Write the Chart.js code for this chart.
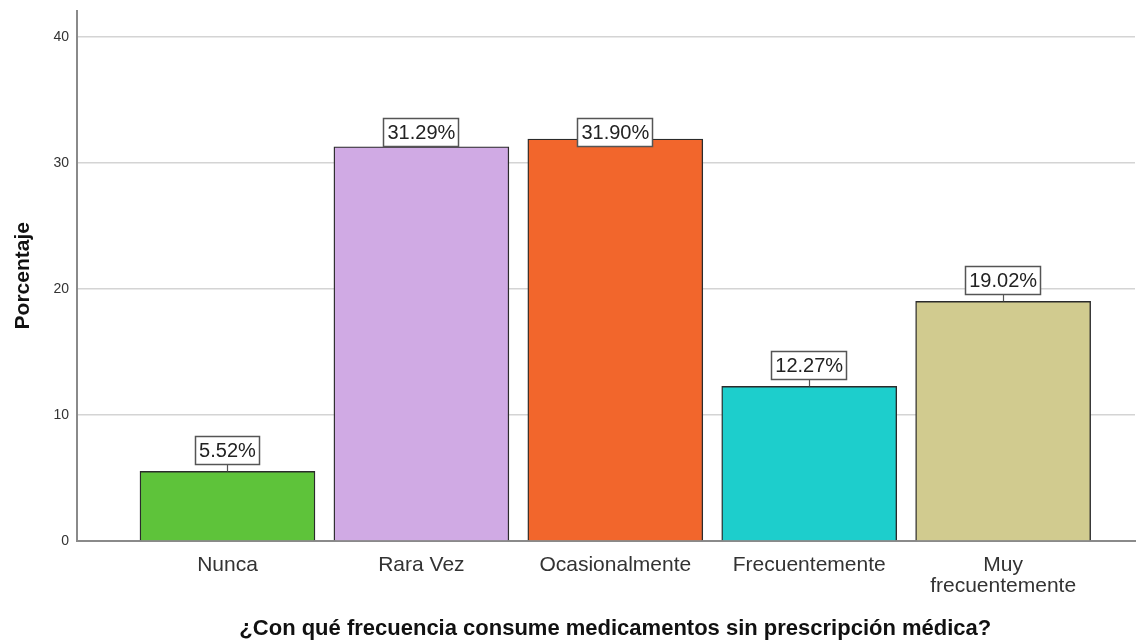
<!DOCTYPE html>
<html>
<head>
<meta charset="utf-8">
<script src="https://cdn.jsdelivr.net/npm/chart.js@4/dist/chart.umd.min.js"></script>
<style>
  html, body { margin: 0; padding: 0; background: #ffffff; }
  #wrap { width: 1139px; height: 640px; }
</style>
</head>
<body>
<div id="wrap"><canvas id="c" width="1139" height="640"></canvas></div>
<script>
const categories = ['Nunca', 'Rara Vez', 'Ocasionalmente', 'Frecuentemente', 'Muy frecuentemente'];
const tickLabels = [['Nunca'], ['Rara Vez'], ['Ocasionalmente'], ['Frecuentemente'], ['Muy', 'frecuentemente']];
const percentages = [5.52, 31.29, 31.90, 12.27, 19.02];
const valueLabels = ['5.52%', '31.29%', '31.90%', '12.27%', '19.02%'];
const barColors = ['#5EC33A', '#D0AAE4', '#F2662C', '#1DCECC', '#D1CB8F'];
const yTicks = [0, 10, 20, 30, 40];
const xTitle = '¿Con qué frecuencia consume medicamentos sin prescripción médica?';
const yTitle = 'Porcentaje';

const FONT = '"Liberation Sans", Arial, sans-serif';

const labelPlugin = {
  id: 'valueBoxes',
  afterDatasetsDraw(chart) {
    const ctx = chart.ctx;
    const meta = chart.getDatasetMeta(0);
    const h = 29;
    const minTop = chart.chartArea.top + 107;
    ctx.save();
    ctx.font = '20px ' + FONT;
    meta.data.forEach((bar, i) => {
      const text = valueLabels[i];
      const w = Math.round(ctx.measureText(text).width) + 8;
      const top = Math.round(Math.max(bar.y - 6 - h, minTop));
      const left = Math.round(bar.x - w / 2);
      if (top + h < bar.y) {
        ctx.strokeStyle = '#555555';
        ctx.lineWidth = 1.2;
        ctx.beginPath();
        ctx.moveTo(Math.round(bar.x) + 0.5, top + h);
        ctx.lineTo(Math.round(bar.x) + 0.5, bar.y);
        ctx.stroke();
      }
      ctx.fillStyle = '#ffffff';
      ctx.fillRect(left, top, w, h);
      ctx.strokeStyle = '#555555';
      ctx.lineWidth = 1.5;
      ctx.strokeRect(left + 0.5, top + 0.5, w - 1, h - 1);
      ctx.fillStyle = '#222222';
      ctx.textAlign = 'center';
      ctx.textBaseline = 'middle';
      ctx.fillText(text, bar.x, top + h / 2 + 1);
    });
    ctx.restore();
  },
  afterDraw(chart) {
    const ctx = chart.ctx;
    const xs = chart.scales.x;
    const cx = (xs.getPixelForValue(1) + xs.getPixelForValue(categories.length)) / 2;
    ctx.save();
    ctx.font = 'bold 22px ' + FONT;
    ctx.fillStyle = '#111111';
    ctx.textAlign = 'center';
    ctx.textBaseline = 'alphabetic';
    ctx.fillText(xTitle, cx, chart.chartArea.bottom + 94);
    ctx.restore();
  }
};

new Chart(document.getElementById('c'), {
  type: 'bar',
  data: {
    datasets: [{
      data: percentages.map((v, i) => ({ x: i + 1, y: v })),
      backgroundColor: barColors,
      borderColor: '#2b2b2b',
      borderWidth: 1.4,
      barThickness: 175
    }]
  },
  options: {
    responsive: false,
    animation: false,
    layout: { autoPadding: false, padding: { top: 10.5, right: 4, left: 0, bottom: 0 } },
    plugins: { legend: { display: false }, tooltip: { enabled: false } },
    scales: {
      x: {
        type: 'linear',
        offset: false,
        min: 0.224,
        max: 5.68,
        afterBuildTicks: s => { s.ticks = categories.map((c, i) => ({ value: i + 1 })); },
        afterFit: s => { s.height = 99; s.paddingLeft = 0; s.paddingRight = 0; },
        ticks: {
          autoSkip: false,
          maxRotation: 0,
          minRotation: 0,
          color: '#333333',
          padding: 14,
          font: { family: FONT, size: 21, lineHeight: 1 },
          callback: v => tickLabels[v - 1]
        },
        grid: { display: false, drawTicks: false },
        border: { display: true, color: '#8a8a8a', width: 2 }
      },
      y: {
        min: 0,
        max: 42.1,
        afterBuildTicks: s => { s.ticks = yTicks.map(v => ({ value: v })); },
        afterFit: s => { s.width = 77; s.paddingTop = 0; s.paddingBottom = 0; },
        ticks: {
          color: '#333333',
          padding: 8,
          font: { family: FONT, size: 14 }
        },
        grid: { color: '#d4d4d4', lineWidth: 1.5, drawTicks: false },
        border: { display: true, color: '#8a8a8a', width: 2 },
        title: {
          display: true,
          text: yTitle,
          color: '#111111',
          font: { family: FONT, size: 21, weight: 'bold' },
          padding: { top: 11, bottom: 0 }
        }
      }
    }
  },
  plugins: [labelPlugin]
});
</script>
</body>
</html>
